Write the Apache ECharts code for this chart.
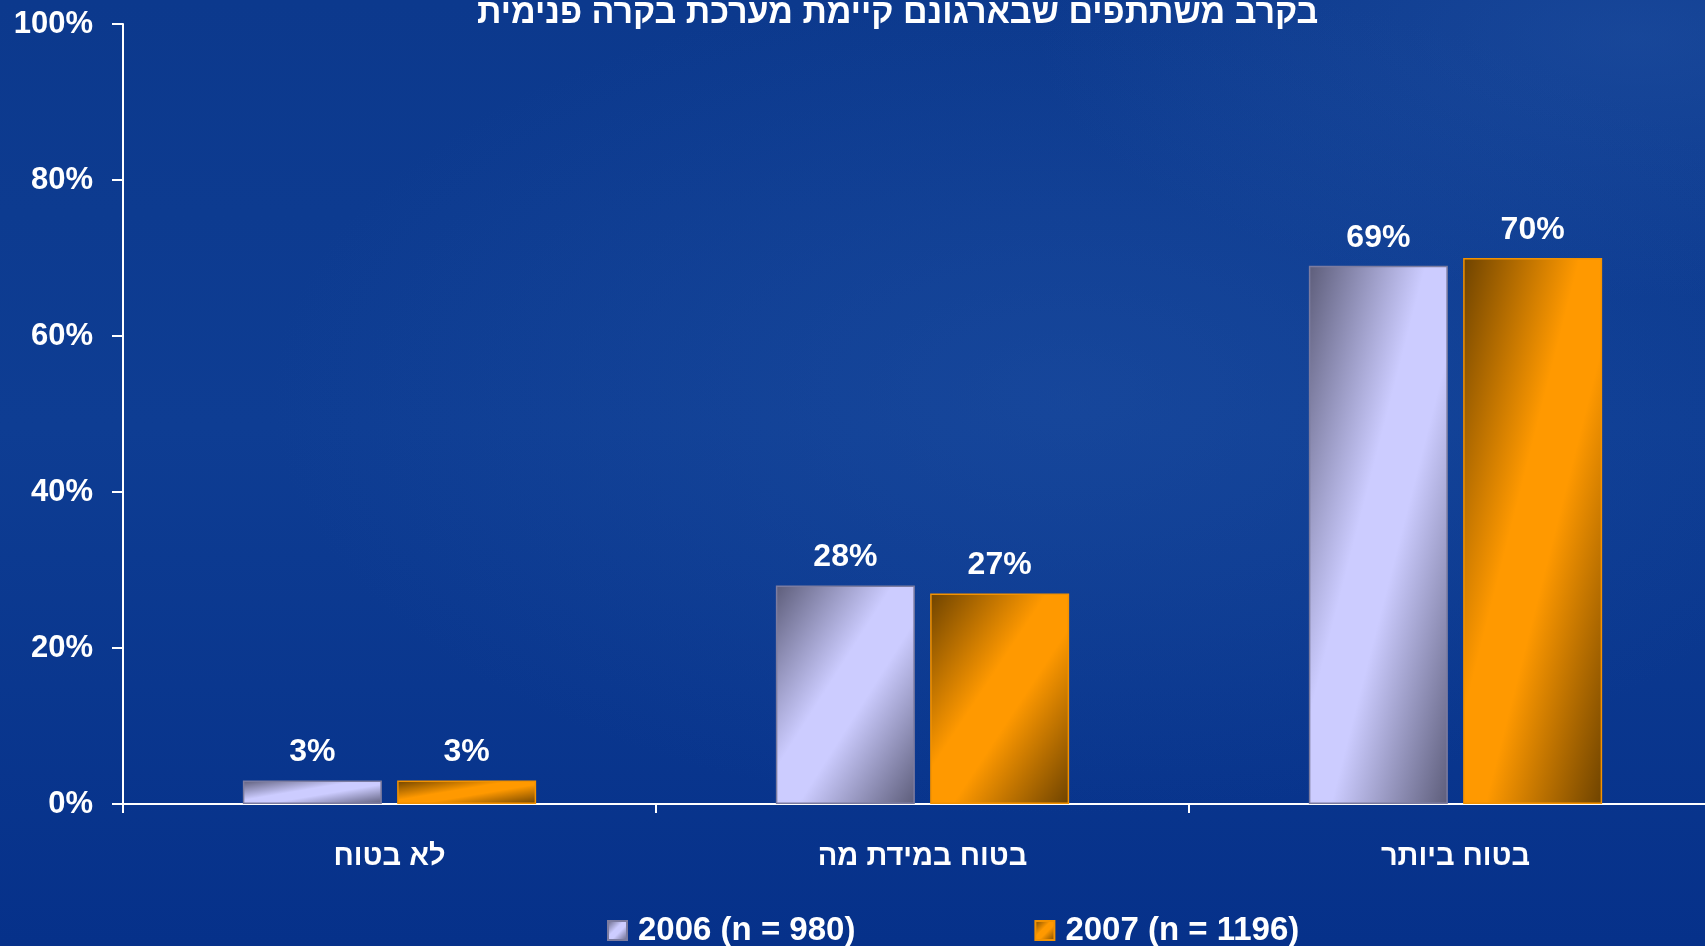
<!DOCTYPE html>
<html lang="he">
<head>
  <meta charset="UTF-8">
  <title>בקרה פנימית</title>
  <script src="https://cdn.jsdelivr.net/npm/echarts@6/dist/echarts.min.js"></script>
  <style>
    html, body {
      margin: 0;
      padding: 0;
      width: 1705px;
      height: 946px;
      overflow: hidden;
      background: #0d3a8e;
    }
    /* the plot runs past the right edge of the slide, so the canvas is a bit wider */
    #chart {
      width: 1722px;
      height: 946px;
      background:
        radial-gradient(ellipse 800px 420px at 62% 42%, rgba(38, 88, 170, 0.35), rgba(38, 88, 170, 0) 100%),
        radial-gradient(ellipse 600px 260px at 95% 4%, rgba(45, 95, 175, 0.35), rgba(45, 95, 175, 0) 100%),
        linear-gradient(180deg, #0c398d 0%, #0e3d93 45%, #06318a 100%);
    }
  </style>
</head>
<body>
<div id="chart"></div>
<script>
  // data
  const categories = ['לא בטוח', 'בטוח במידת מה', 'בטוח ביותר'];
  const seriesNames = ['2006 (n = 980)', '2007 (n = 1196)'];
  const values2006 = [3, 28, 69];
  const values2007 = [3, 27, 70];

  const barW = 139;
  const palette = [
    {dark: '#5d5d7a', light: '#ccccff', border: '#7c7ca0'},
    {dark: '#6e4300', light: '#ff9900', border: '#f39200'}
  ];

  // diagonal gradient the way office charts do it: dark corners, light anti-diagonal
  function diagGradient(p, w, h) {
    let x2 = 1, y2 = 1;
    if (w > 0 && h > 0) {
      x2 = 2 * h * h / (h * h + w * w);
      y2 = 2 * w * w / (h * h + w * w);
    }
    return new echarts.graphic.LinearGradient(0, 0, x2, y2, [
      {offset: 0, color: p.dark},
      {offset: 0.42, color: p.light},
      {offset: 0.58, color: p.light},
      {offset: 1, color: p.dark}
    ]);
  }

  const chart = echarts.init(document.getElementById('chart'));
  const labelFont = 'Liberation Sans, Arial, sans-serif';

  function makeSeries(name, values, p) {
    return {
      name: name,
      type: 'bar',
      barWidth: barW,
      barGap: '11%',
      data: values,
      itemStyle: {
        color: diagGradient(p, 1, 1),
        borderColor: p.border,
        borderWidth: 1.5
      },
      label: {
        show: true,
        position: 'top',
        distance: 12,
        formatter: '{c}%',
        color: '#ffffff',
        fontFamily: labelFont,
        fontWeight: 'bold',
        fontSize: 32
      }
    };
  }

  const option = {
    backgroundColor: 'transparent',
    animation: false,
    title: {
      text: 'בקרב משתתפים שבארגונם קיימת מערכת בקרה פנימית',
      left: 472,
      top: -8,
      textStyle: {
        color: '#ffffff',
        fontFamily: labelFont,
        fontWeight: 'bold',
        fontSize: 34
      }
    },
    legend: {
      left: 602,
      top: 909,
      icon: 'rect',
      itemWidth: 19,
      itemHeight: 19,
      itemGap: 179,
      data: seriesNames,
      textStyle: {
        color: '#ffffff',
        fontFamily: labelFont,
        fontWeight: 'bold',
        fontSize: 33,
        padding: [0, 0, 0, 6]
      }
    },
    grid: {
      left: 123,
      right: 0,
      top: 24,
      bottom: 142,
      containLabel: false
    },
    xAxis: {
      type: 'category',
      data: categories,
      axisLine: {lineStyle: {color: '#ffffff', width: 2}},
      axisTick: {show: true, length: 9, lineStyle: {color: '#ffffff', width: 2}},
      axisLabel: {
        margin: 38,
        color: '#ffffff',
        fontFamily: labelFont,
        fontWeight: 'bold',
        fontSize: 29
      }
    },
    yAxis: {
      type: 'value',
      min: 0,
      max: 100,
      interval: 20,
      splitLine: {show: false},
      axisLine: {show: true, lineStyle: {color: '#ffffff', width: 2}},
      axisTick: {show: true, length: 11, lineStyle: {color: '#ffffff', width: 2}},
      axisLabel: {
        formatter: '{value}%',
        margin: 30,
        color: '#ffffff',
        fontFamily: labelFont,
        fontWeight: 'bold',
        fontSize: 31
      }
    },
    series: [
      makeSeries(seriesNames[0], values2006, palette[0]),
      makeSeries(seriesNames[1], values2007, palette[1])
    ]
  };
  chart.setOption(option);

  // second pass: give each bar its own diagonal gradient sized to the bar
  const zeroY = chart.convertToPixel({yAxisIndex: 0}, 0);
  const allValues = [values2006, values2007];
  chart.setOption({
    series: allValues.map(function (vals, i) {
      return {
        data: vals.map(function (v) {
          const h = zeroY - chart.convertToPixel({yAxisIndex: 0}, v);
          return {value: v, itemStyle: {color: diagGradient(palette[i], barW, h)}};
        })
      };
    })
  });
</script>
</body>
</html>
